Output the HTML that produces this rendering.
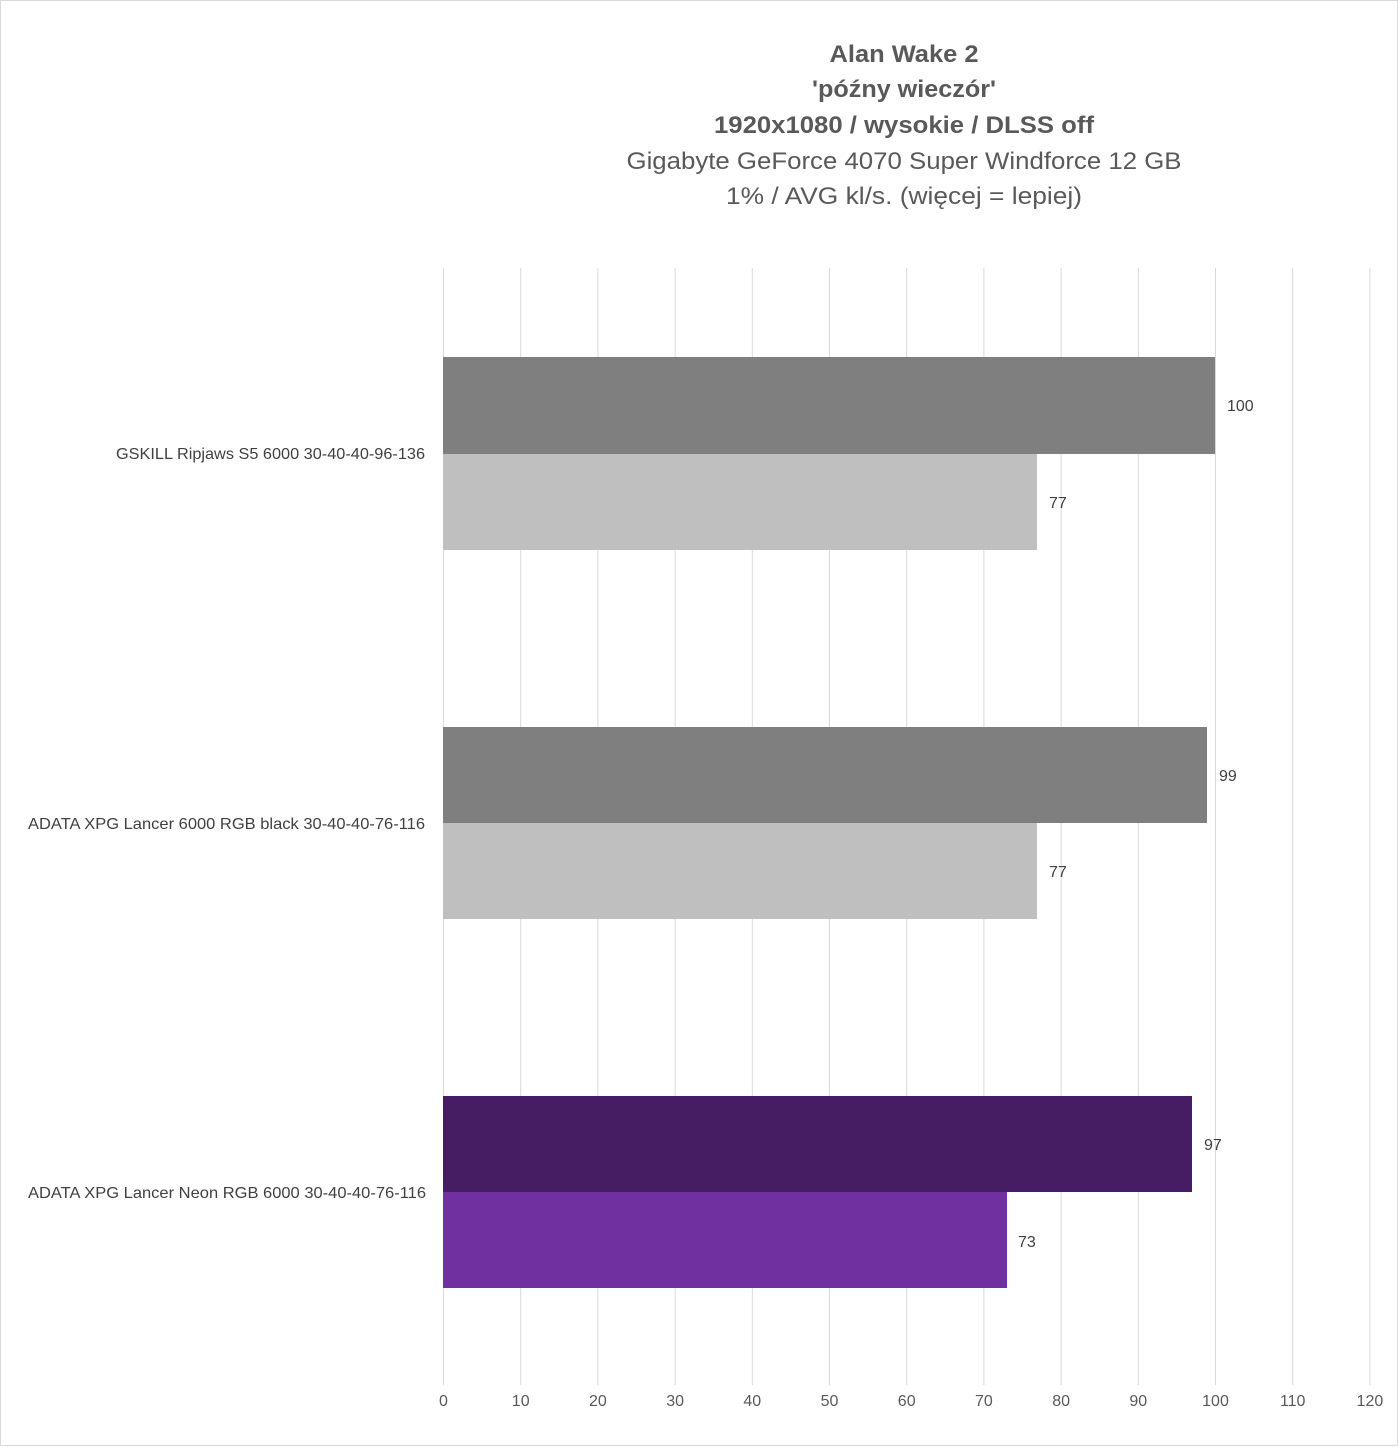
<!DOCTYPE html>
<html><head><meta charset="utf-8"><style>
html,body{margin:0;padding:0;background:#fff}
svg text{font-family:"Liberation Sans",sans-serif}
</style></head><body>
<svg width="1398" height="1446" viewBox="0 0 1398 1446" xmlns="http://www.w3.org/2000/svg">
<rect x="0.5" y="0.5" width="1397" height="1445" fill="#fff" stroke="#d9d9d9"/>
<g text-anchor="middle" fill="#595959">
<text x="904" y="62" font-size="24" font-weight="bold" textLength="149" lengthAdjust="spacingAndGlyphs">Alan Wake 2</text>
<text x="904" y="97" font-size="24" font-weight="bold" textLength="184" lengthAdjust="spacingAndGlyphs">'późny wieczór'</text>
<text x="904" y="133" font-size="24" font-weight="bold" textLength="380" lengthAdjust="spacingAndGlyphs">1920x1080 / wysokie / DLSS off</text>
<text x="904" y="169" font-size="24" textLength="555" lengthAdjust="spacingAndGlyphs">Gigabyte GeForce 4070 Super Windforce 12 GB</text>
<text x="904" y="204" font-size="24" textLength="356" lengthAdjust="spacingAndGlyphs">1% / AVG kl/s. (więcej = lepiej)</text>
</g>
<g stroke="#d9d9d9" stroke-width="1">
<line x1="443.5" y1="268" x2="443.5" y2="1385"/>
<line x1="520.7" y1="268" x2="520.7" y2="1385"/>
<line x1="597.9" y1="268" x2="597.9" y2="1385"/>
<line x1="675.1" y1="268" x2="675.1" y2="1385"/>
<line x1="752.3" y1="268" x2="752.3" y2="1385"/>
<line x1="829.5" y1="268" x2="829.5" y2="1385"/>
<line x1="906.7" y1="268" x2="906.7" y2="1385"/>
<line x1="983.9" y1="268" x2="983.9" y2="1385"/>
<line x1="1061.1" y1="268" x2="1061.1" y2="1385"/>
<line x1="1138.3" y1="268" x2="1138.3" y2="1385"/>
<line x1="1215.5" y1="268" x2="1215.5" y2="1385"/>
<line x1="1292.7" y1="268" x2="1292.7" y2="1385"/>
<line x1="1369.9" y1="268" x2="1369.9" y2="1385"/>
</g>
<rect x="443" y="357" width="772" height="97" fill="#7f7f7f"/>
<rect x="443" y="454" width="594" height="96" fill="#bfbfbf"/>
<rect x="443" y="727" width="764" height="96" fill="#7f7f7f"/>
<rect x="443" y="823" width="594" height="96" fill="#bfbfbf"/>
<rect x="443" y="1096" width="749" height="96" fill="#461d63"/>
<rect x="443" y="1192" width="564" height="96" fill="#7030a0"/>
<g font-size="16" fill="#404040">
<text x="1227" y="411">100</text>
<text x="1049" y="508">77</text>
<text x="1219" y="781">99</text>
<text x="1049" y="877">77</text>
<text x="1204" y="1150">97</text>
<text x="1018" y="1247">73</text>
</g>
<g font-size="16" fill="#404040" text-anchor="end">
<text x="425" y="459" textLength="309" lengthAdjust="spacingAndGlyphs">GSKILL Ripjaws S5 6000 30-40-40-96-136</text>
<text x="425" y="829" textLength="397" lengthAdjust="spacingAndGlyphs">ADATA XPG Lancer 6000 RGB black 30-40-40-76-116</text>
<text x="426" y="1198" textLength="398" lengthAdjust="spacingAndGlyphs">ADATA XPG Lancer Neon RGB 6000 30-40-40-76-116</text>
</g>
<g font-size="16" fill="#595959" text-anchor="middle">
<text x="443.5" y="1406">0</text>
<text x="520.7" y="1406">10</text>
<text x="597.9" y="1406">20</text>
<text x="675.1" y="1406">30</text>
<text x="752.3" y="1406">40</text>
<text x="829.5" y="1406">50</text>
<text x="906.7" y="1406">60</text>
<text x="983.9" y="1406">70</text>
<text x="1061.1" y="1406">80</text>
<text x="1138.3" y="1406">90</text>
<text x="1215.5" y="1406">100</text>
<text x="1292.7" y="1406">110</text>
<text x="1369.9" y="1406">120</text>
</g>
</svg>
</body></html>
